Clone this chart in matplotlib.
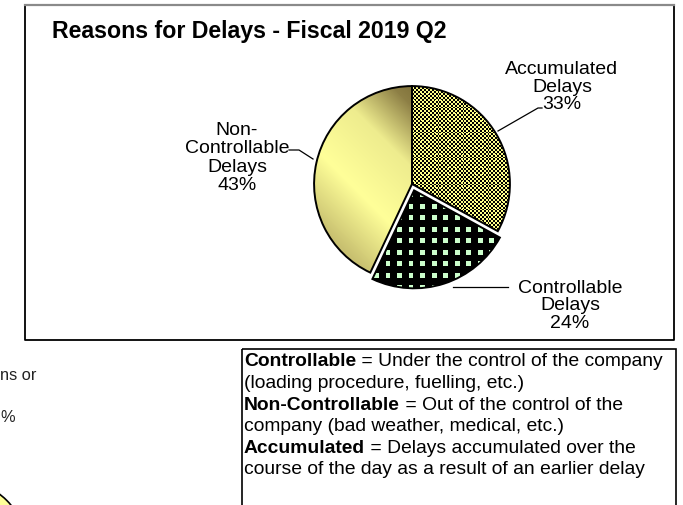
import numpy as np
import matplotlib
matplotlib.use("Agg")
import matplotlib.pyplot as plt
from matplotlib.colors import LinearSegmentedColormap
from matplotlib.patches import Rectangle, Circle

plt.rcParams["font.family"] = ["Liberation Sans", "DejaVu Sans"]

# data
categories = ["Accumulated\nDelays", "Controllable\nDelays", "Non-\nControllable\nDelays"]
shares = [33, 24, 43]
explode = [0.0, 0.07, 0.0]
title = "Reasons for Delays - Fiscal 2019 Q2"
notes = [
    ("Controllable", " = Under the control of the company"),
    ("", "(loading procedure, fuelling, etc.)"),
    ("Non-Controllable", " = Out of the control of the"),
    ("", "company (bad weather, medical, etc.)"),
    ("Accumulated", " = Delays accumulated over the"),
    ("", "course of the day as a result of an earlier delay"),
]

W, H = 683, 506
fig = plt.figure(figsize=(W / 100, H / 100), dpi=100)
fig.patch.set_facecolor("white")

# page-level axes in pixel coordinates
page = fig.add_axes([0, 0, 1, 1])
page.set_xlim(0, W)
page.set_ylim(H, 0)
page.axis("off")

# chart frame
page.plot([24.5, 24.5, 674, 674], [6, 341, 341, 6], color="black", lw=1.3, solid_capstyle="butt")
page.plot([24.5, 674], [6, 6], color="#8a8a8a", lw=1.6)
page.text(52, 31, title, fontsize=16.7, fontweight="bold", va="center", ha="left")

# notes box
page.add_patch(Rectangle((242, 349.5), 434, 170, fill=False, ec="black", lw=1.2))

# visible part of the neighbouring chart's text (cut off at the left edge)
page.text(0.5, 376, "ns or", fontsize=11.8, ha="left", va="center", color="#222222")
page.text(0.5, 418, "%", fontsize=11.8, ha="left", va="center", color="#222222")
page.add_patch(Circle((-40, 548), 66, fc="#ffff99", ec="black", lw=1.2))

# pie axes: centre (412, 185) px, 100 px per unit
cx, cy, half = 412, 185, 120
pie_ax = fig.add_axes([(cx - half) / W, (H - cy - half) / H, 2 * half / W, 2 * half / H])
pie_ax.set_xlim(-1.2, 1.2)
pie_ax.set_ylim(-1.2, 1.2)
pie_ax.set_aspect("equal")
pie_ax.axis("off")

wedges, _ = pie_ax.pie(
    shares, explode=explode, startangle=90, counterclock=False, radius=1.02,
    wedgeprops=dict(facecolor="none", edgecolor="black", linewidth=1.4),
)
for w in wedges:
    w.set_zorder(5)

n = 2 * half
yy, xx = np.mgrid[0:n, 0:n]
ext = (-1.2, 1.2, -1.2, 1.2)

# accumulated: small checker board, black / yellow
checker = ((xx // 2 + yy // 2) % 2).astype(float)
spots = ((xx % 7 == 3) & (yy % 7 == 3))
checker[spots] = 1.0
cmap_chk = LinearSegmentedColormap.from_list("chk", ["#000000", "#ffff88"])
im = pie_ax.imshow(checker, cmap=cmap_chk, extent=ext, origin="lower", interpolation="nearest", zorder=2)
im.set_clip_path(wedges[0])

# controllable: black with pale green squares
dots = (((xx + 4) % 12) < 5) & (((yy + 2) % 12) < 5)
cmap_dot = LinearSegmentedColormap.from_list("dot", ["#000000", "#ccffcc"])
im = pie_ax.imshow(dots.astype(float), cmap=cmap_dot, extent=ext, origin="lower", interpolation="nearest", zorder=2)
im.set_clip_path(wedges[1])

# non-controllable: shaded yellow gradient
gx = np.linspace(-1.2, 1.2, n)
GX, GY = np.meshgrid(gx, gx)
u = (GX + GY) / np.sqrt(2)
cmap_grad = LinearSegmentedColormap.from_list(
    "grad", [(0.0, "#c8c070"), (0.3, "#ffff99"), (0.62, "#eeec8e"), (0.87, "#8e8046"), (1.0, "#7a6c36")]
)
im = pie_ax.imshow(u, cmap=cmap_grad, vmin=-1.0, vmax=0.8, extent=ext, origin="lower", zorder=2)
im.set_clip_path(wedges[2])

# labels and leader lines (pixel coordinates)
label_fs = 14
pcts = [f"{s}%" for s in shares]
page.text(562, 87, f"{categories[0]}\n{pcts[0]}", fontsize=label_fs, ha="center", va="center", linespacing=1.02)
page.plot([498, 538, 542], [132, 109, 109], color="black", lw=0.9)
page.text(570, 306, f"{categories[1]}\n{pcts[1]}", fontsize=label_fs, ha="center", va="center", linespacing=1.02)
page.plot([453, 508], [287.5, 287.5], color="black", lw=0.9)
page.text(237, 158, f"{categories[2]}\n{pcts[2]}", fontsize=label_fs, ha="center", va="center", linespacing=1.1)
page.plot([289, 299, 313], [151, 151, 160], color="black", lw=0.9)

# notes text with bold lead words
fig.canvas.draw()
renderer = fig.canvas.get_renderer()
note_fs = 13.9
x0, y0, dy = 244, 362, 21.6
for i, (bold, rest) in enumerate(notes):
    y = y0 + i * dy
    x = x0
    if bold:
        t = page.text(x, y, bold, fontsize=note_fs, fontweight="bold", ha="left", va="center")
        bb = t.get_window_extent(renderer=renderer)
        x = x + bb.width
    page.text(x, y, rest, fontsize=note_fs, ha="left", va="center")

fig.savefig("out.png", dpi=100)
